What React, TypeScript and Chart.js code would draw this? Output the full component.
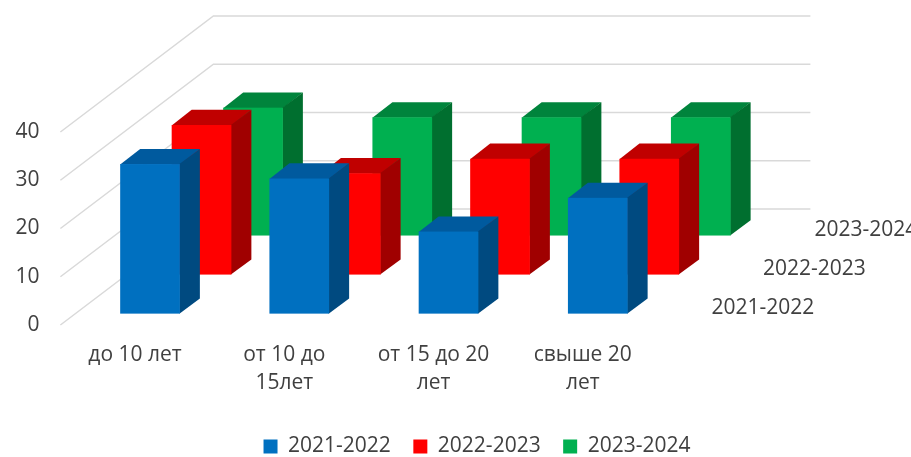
import React, { useEffect, useRef } from 'react';
import { Chart, registerables } from 'chart.js';

Chart.register(...registerables);

// ---- data ----
const categories: string[][] = [
  ['до 10 лет'],
  ['от 10 до', '15лет'],
  ['от 15 до 20', 'лет'],
  ['свыше 20', 'лет'],
];
const seriesNames: string[] = ['2021-2022', '2022-2023', '2023-2024'];
const values2021: number[] = [31, 28, 17, 24];
const values2022: number[] = [31, 21, 24, 24];
const values2023: number[] = [26.5, 24.5, 24.5, 24.5];
const yTicks: number[] = [0, 10, 20, 30, 40];

// ---- styles ----
const frontColors = ['#0070C0', '#FF0000', '#00B050'];
const topColors = ['#005A9E', '#C00000', '#00843C'];
const sideColors = ['#004A80', '#A00000', '#006F2F'];
const textColor = '#404040';
const FONT = "'Open Sans', sans-serif";
const FONT_SIZE = 21;

// depth geometry (oblique projection)
const DEPTH_X = 153;
const DEPTH_Y = -116;
const RATIO = DEPTH_Y / DEPTH_X;
const rowFront = [15, 66.5, 118];
const barDepth = 20;

const threeD = {
  id: 'threeD',
  beforeDatasetsDraw(chart: any) {
    const { ctx, chartArea, scales } = chart;
    const y = scales.y;
    ctx.save();
    ctx.strokeStyle = '#D9D9D9';
    ctx.lineWidth = 1.5;
    for (const v of yTicks) {
      const py = y.getPixelForValue(v);
      ctx.beginPath();
      ctx.moveTo(chartArea.left, py);
      ctx.lineTo(chartArea.left + DEPTH_X, py + DEPTH_Y);
      ctx.lineTo(chartArea.right + DEPTH_X, py + DEPTH_Y);
      ctx.stroke();
    }
    ctx.restore();
  },
  beforeDatasetDraw() {
    return false;
  },
  afterDatasetsDraw(chart: any) {
    const { ctx, chartArea, scales } = chart;
    ctx.save();
    const bx = barDepth;
    const by = barDepth * RATIO;
    for (let d = chart.data.datasets.length - 1; d >= 0; d--) {
      const meta = chart.getDatasetMeta(d);
      const ox = rowFront[d];
      const oy = ox * RATIO;
      meta.data.forEach((el: any) => {
        const { x, y, base, width } = el.getProps(['x', 'y', 'base', 'width'], true);
        const l = x - width / 2 + ox;
        const r = x + width / 2 + ox;
        const t = y + oy;
        const b = base + oy;
        // top face
        ctx.fillStyle = topColors[d];
        ctx.beginPath();
        ctx.moveTo(l, t + 0.5);
        ctx.lineTo(l + bx, t + by);
        ctx.lineTo(r + bx, t + by);
        ctx.lineTo(r, t + 0.5);
        ctx.closePath();
        ctx.fill();
        // side face
        ctx.fillStyle = sideColors[d];
        ctx.beginPath();
        ctx.moveTo(r - 0.5, t);
        ctx.lineTo(r + bx, t + by);
        ctx.lineTo(r + bx, b + by);
        ctx.lineTo(r - 0.5, b);
        ctx.closePath();
        ctx.fill();
        // front face
        ctx.fillStyle = frontColors[d];
        ctx.fillRect(l, t, r - l, b - t);
      });
    }
    // depth-axis labels
    const y0 = scales.y.getPixelForValue(0);
    ctx.fillStyle = textColor;
    ctx.font = `${FONT_SIZE}px ${FONT}`;
    ctx.textAlign = 'left';
    ctx.textBaseline = 'middle';
    seriesNames.forEach((name, d) => {
      const mid = rowFront[d] + barDepth / 2;
      ctx.fillText(name, chartArea.right + mid + 29, y0 + mid * RATIO + 2);
    });
    ctx.restore();
  },
};

export default function App() {
  const ref = useRef<HTMLCanvasElement | null>(null);

  useEffect(() => {
    if (!ref.current) return;
    Chart.defaults.font.family = FONT;
    const chart = new Chart(ref.current, {
      type: 'bar',
      data: {
        labels: categories,
        datasets: [
          { label: seriesNames[0], data: values2021, backgroundColor: frontColors[0], borderWidth: 0 },
          { label: seriesNames[1], data: values2022, backgroundColor: frontColors[1], borderWidth: 0 },
          { label: seriesNames[2], data: values2023, backgroundColor: frontColors[2], borderWidth: 0 },
        ],
      },
      options: {
        responsive: false,
        animation: false,
        devicePixelRatio: 1,
        layout: { padding: { top: 132, left: 0, right: -43, bottom: 0 } },
        datasets: {
          bar: { grouped: false, categoryPercentage: 1, barPercentage: 0.4 },
        },
        scales: {
          x: {
            grid: { display: false, drawTicks: false },
            border: { display: false },
            ticks: {
              padding: 16,
              maxRotation: 0,
              minRotation: 0,
              autoSkip: false,
              color: textColor,
              font: { size: FONT_SIZE, lineHeight: 28 / FONT_SIZE },
            },
            afterFit: (s: any) => {
              s.height = 88.5;
            },
          },
          y: {
            min: 0,
            max: 40,
            grid: { display: false, drawTicks: false },
            border: { display: false },
            ticks: { stepSize: 10, padding: 21, color: textColor, font: { size: FONT_SIZE } },
            afterFit: (s: any) => {
              s.width = 60.4;
            },
          },
          y2: {
            position: 'right',
            display: true,
            grid: { display: false, drawTicks: false },
            border: { display: false },
            ticks: { display: false },
            afterFit: (s: any) => {
              s.width = 296.6;
            },
          },
        },
        plugins: {
          legend: {
            position: 'bottom',
            maxHeight: 43.5,
            labels: {
              boxWidth: 14,
              boxHeight: 14,
              padding: 22.5,
              color: textColor,
              font: { size: FONT_SIZE },
            },
          },
          tooltip: { enabled: false },
        },
      } as any,
      plugins: [threeD],
    });
    return () => chart.destroy();
  }, []);

  return (
    <div style={{ position: 'absolute', left: 0, top: 0, width: 911, height: 457 }}>
      <canvas ref={ref} width={911} height={457} style={{ width: 911, height: 457, display: 'block' }} />
    </div>
  );
}
